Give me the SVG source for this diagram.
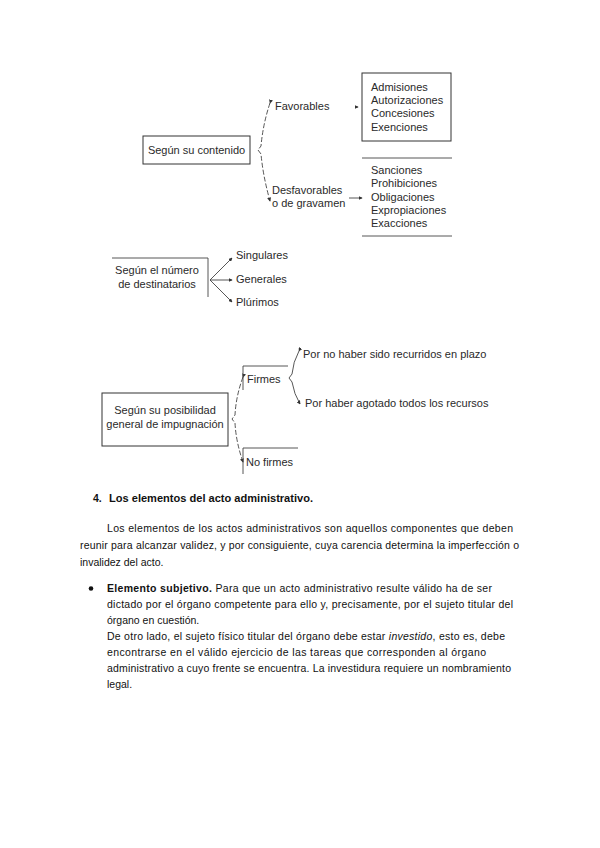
<svg xmlns="http://www.w3.org/2000/svg" width="600" height="848" viewBox="0 0 600 848">
<style>
.d{font-family:"Liberation Sans",Arial,sans-serif;font-size:11px;fill:#2a2a2a}
.t{font-family:"Liberation Sans",Arial,sans-serif;font-size:10.5px;fill:#111}
.b{font-weight:bold}
.box{fill:none;stroke:#333;stroke-width:1}
.ln{fill:none;stroke:#444;stroke-width:0.9}
.dash{fill:none;stroke:#444;stroke-width:0.9;stroke-dasharray:5 2}
</style>
<defs>
<marker id="ah" viewBox="0 0 6 6" refX="5" refY="3" markerWidth="4" markerHeight="4" orient="auto" markerUnits="userSpaceOnUse">
<path d="M0,0 L6,3 L0,6 z" fill="#333"/>
</marker>
</defs>
<rect width="600" height="848" fill="#fff"/>

<g id="connectors">
<path class="dash" d="M270,103 Q263,124 261,146 L258,150 L261,154 Q263,176 270,201" marker-start="url(#ah)" marker-end="url(#ah)"/>
<path class="ln" d="M356,107 L358,107" marker-end="url(#ah)"/>
<path class="ln" d="M349,198 L362,198" marker-end="url(#ah)"/>
<path class="ln" d="M210,280 L232,258" marker-end="url(#ah)"/>
<path class="ln" d="M210,280 L232,280" marker-end="url(#ah)"/>
<path class="ln" d="M210,280 L232,302" marker-end="url(#ah)"/>
<path class="dash" d="M243,377 Q236,396 235,415 L232,419 L235,423 Q236,442 243,462" marker-start="url(#ah)" marker-end="url(#ah)"/>
<path class="ln" d="M299,351 Q293,362 292,374 L289,378 L292,382 Q294,394 300,404" marker-start="url(#ah)" marker-end="url(#ah)"/>
</g>

<g id="contenido">
<rect class="box" x="143" y="136" width="107" height="28"/>
<text class="d" x="196.5" y="154" text-anchor="middle">Según su contenido</text>
</g>
<g id="favorables">
<text class="d" x="275" y="110">Favorables</text>
</g>
<g id="desfavorables">
<text class="d" x="272" y="194">Desfavorables</text>
<text class="d" x="272" y="207">o de gravamen</text>
</g>
<g id="lista-favorables">
<rect class="box" x="362" y="73" width="89" height="68"/>
<text class="d" x="371" y="91">Admisiones</text>
<text class="d" x="371" y="104">Autorizaciones</text>
<text class="d" x="371" y="117">Concesiones</text>
<text class="d" x="371" y="131">Exenciones</text>
</g>
<g id="lista-desfavorables">
<line class="ln" x1="362" y1="158" x2="452" y2="158"/>
<line class="ln" x1="362" y1="236" x2="452" y2="236"/>
<text class="d" x="371" y="174">Sanciones</text>
<text class="d" x="371" y="187">Prohibiciones</text>
<text class="d" x="371" y="201">Obligaciones</text>
<text class="d" x="371" y="214">Expropiaciones</text>
<text class="d" x="371" y="227">Exacciones</text>
</g>

<g id="destinatarios">
<path class="ln" d="M112,258 L208,258 L208,297"/>
<text class="d" x="157" y="274" text-anchor="middle">Según el número</text>
<text class="d" x="157" y="288" text-anchor="middle">de destinatarios</text>
</g>
<g id="singulares"><text class="d" x="236" y="259">Singulares</text></g>
<g id="generales"><text class="d" x="236" y="283">Generales</text></g>
<g id="plurimos"><text class="d" x="236" y="306">Plúrimos</text></g>

<g id="impugnacion">
<rect class="box" x="102" y="393" width="126" height="53"/>
<text class="d" x="165" y="414" text-anchor="middle">Según su posibilidad</text>
<text class="d" x="165" y="428" text-anchor="middle">general de impugnación</text>
</g>
<g id="firmes">
<path class="ln" d="M243,390 L243,366 L288,366"/>
<text class="d" x="247" y="383">Firmes</text>
</g>
<g id="no-firmes">
<path class="ln" d="M243,474 L243,448 L298,448"/>
<text class="d" x="246" y="466">No firmes</text>
</g>
<g id="plazo"><text class="d" x="303" y="358">Por no haber sido recurridos en plazo</text></g>
<g id="recursos"><text class="d" x="305" y="407">Por haber agotado todos los recursos</text></g>

<g id="texto">
<text class="t b" x="93" y="502">4.</text>
<text class="t b" x="109" y="502" textLength="204" lengthAdjust="spacingAndGlyphs">Los elementos del acto administrativo.</text>
<text class="t" x="107" y="532" textLength="406" lengthAdjust="spacing">Los elementos de los actos administrativos son aquellos componentes que deben</text>
<text class="t" x="80" y="549" textLength="439" lengthAdjust="spacing">reunir para alcanzar validez, y por consiguiente, cuya carencia determina la imperfección o</text>
<text class="t" x="80" y="566">invalidez del acto.</text>
<circle cx="91" cy="588.5" r="2.3" fill="#111"/>
<text class="t" x="107" y="592" textLength="385" lengthAdjust="spacing"><tspan class="b">Elemento subjetivo.</tspan> Para que un acto administrativo resulte válido ha de ser</text>
<text class="t" x="107" y="608" textLength="406" lengthAdjust="spacing">dictado por el órgano competente para ello y, precisamente, por el sujeto titular del</text>
<text class="t" x="107" y="624">órgano en cuestión.</text>
<text class="t" x="107" y="640" textLength="398" lengthAdjust="spacing">De otro lado, el sujeto físico titular del órgano debe estar <tspan font-style="italic">investido</tspan>, esto es, debe</text>
<text class="t" x="107" y="656" textLength="379" lengthAdjust="spacing">encontrarse en el válido ejercicio de las tareas que corresponden al órgano</text>
<text class="t" x="107" y="672" textLength="404" lengthAdjust="spacing">administrativo a cuyo frente se encuentra. La investidura requiere un nombramiento</text>
<text class="t" x="107" y="688">legal.</text>
</g>
</svg>
